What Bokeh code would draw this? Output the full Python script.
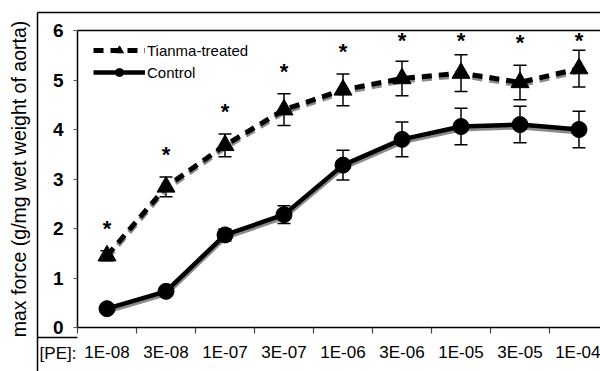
from bokeh.plotting import figure
from bokeh.models import (ColumnDataSource, Range1d, FixedTicker, Whisker, TeeHead,
                          Legend, LegendItem, LinearAxis)
from bokeh.embed import file_html
from bokeh.resources import INLINE
from bokeh.core.properties import value

concentrations = ["1E-08", "3E-08", "1E-07", "3E-07", "1E-06", "3E-06", "1E-05", "3E-05", "1E-04"]
tianma = [1.45, 2.84, 3.68, 4.40, 4.80, 5.03, 5.14, 4.95, 5.23]
tianma_err = [0.10, 0.20, 0.23, 0.32, 0.32, 0.35, 0.37, 0.35, 0.37]
control = [0.38, 0.73, 1.87, 2.28, 3.28, 3.80, 4.06, 4.10, 4.00]
control_err = [0.07, 0.08, 0.12, 0.18, 0.30, 0.35, 0.37, 0.37, 0.37]
y_ticks = [0, 1, 2, 3, 4, 5, 6]

FONT = "Liberation Sans"
W, H = 600, 371
x = list(range(1, len(concentrations) + 1))
star_y = [min(t + e + 0.45, 5.8) for t, e in zip(tianma, tianma_err)]

# pixel geometry of the plotting area inside the canvas
PX_X, PX_Y = 59.0, 49.5          # pixels per category / per unit
X0_PX, Y0_PX = 77.0, 327.0       # canvas position of (0.5, 0)
x_start = 0.5 - X0_PX / PX_X
x_end = x_start + W / PX_X
y_end = Y0_PX / PX_Y
y_start = y_end - H / PX_Y


def dx(px):
    return x_start + px / PX_X


def dy(py):
    return y_end - py / PX_Y


src = ColumnDataSource(dict(
    x=x, t=tianma, c=control,
    t_lo=[a - b for a, b in zip(tianma, tianma_err)],
    t_hi=[a + b for a, b in zip(tianma, tianma_err)],
    c_lo=[a - b for a, b in zip(control, control_err)],
    c_hi=[a + b for a, b in zip(control, control_err)],
    t_sh=[a - 0.05 for a in tianma], c_sh=[a - 0.05 for a in control],
    star=star_y, s=["*"] * len(x),
))

p = figure(width=W, height=H, output_backend="svg", toolbar_location=None,
           x_range=Range1d(x_start, x_end), y_range=Range1d(y_start, y_end),
           min_border=0, x_axis_location=None, y_axis_location=None)
p.outline_line_color = None
p.grid.visible = False
p.background_fill_color = "white"
p.border_fill_color = "white"

xa = LinearAxis(fixed_location=0, bounds=(0.5, x_end + 1))
xa.ticker = FixedTicker(ticks=x, minor_ticks=[i + 0.5 for i in range(0, len(x) + 1)])
xa.major_label_overrides = {i: lab for i, lab in zip(x, concentrations)}
xa.major_tick_in = 0
xa.major_tick_out = 0
xa.minor_tick_in = 0
xa.minor_tick_out = 6
xa.minor_tick_line_color = "#444444"
xa.minor_tick_line_width = 1.2
xa.axis_line_color = "black"
xa.axis_line_width = 1.5
xa.major_label_standoff = 9
xa.major_label_text_font = FONT
xa.major_label_text_font_size = "17px"
xa.major_label_text_color = "black"
p.add_layout(xa, "below")

ya = LinearAxis(fixed_location=0.5, bounds=(0, 6))
ya.ticker = FixedTicker(ticks=y_ticks)
ya.minor_tick_line_color = None
ya.major_tick_in = 0
ya.major_tick_out = 4
ya.major_tick_line_color = "#555555"
ya.axis_line_color = "black"
ya.axis_line_width = 1.5
ya.major_label_standoff = 10
ya.major_label_text_font = FONT
ya.major_label_text_font_size = "19px"
ya.major_label_text_font_style = "bold"
ya.major_label_text_color = "black"
ya.axis_label = "max force (g/mg wet weight of aorta)"
ya.axis_label_text_font = FONT
ya.axis_label_text_font_size = "19.5px"
ya.axis_label_text_font_style = "normal"
ya.axis_label_text_color = "black"
ya.axis_label_standoff = 20
p.add_layout(ya, "left")

# frame / table decoration lines
p.segment(x0=[0.5, dx(37), dx(37), dx(37)], y0=[6, dy(12), dy(12), dy(337)],
          x1=[x_end + 1, x_end + 1, dx(37), 0.5], y1=[6, dy(12), y_start - 1, dy(337)],
          line_color="black", line_width=1.5)
p.text(x=[dx(57.5)], y=[dy(353)], text=["[PE]:"], text_align="center", text_baseline="middle",
       text_font=value(FONT), text_font_size="17px", text_color="black")

# error bars
for lo, hi in (("t_lo", "t_hi"), ("c_lo", "c_hi")):
    w = Whisker(source=src, base="x", lower=lo, upper=hi, line_color="black", line_width=1.5,
                upper_head=TeeHead(size=13, line_color="black", line_width=1.5),
                lower_head=TeeHead(size=13, line_color="black", line_width=1.5))
    p.add_layout(w)

# shadows
p.line("x", "t_sh", source=src, line_color="#8a8a8a", line_width=5, line_dash="10 7")
p.line("x", "c_sh", source=src, line_color="#8a8a8a", line_width=5)

# series
lt = p.line("x", "t", source=src, line_color="black", line_width=5, line_dash="10 7")
mt = p.scatter("x", "t", source=src, marker="triangle", size=18, color="black")
lc = p.line("x", "c", source=src, line_color="black", line_width=4.5)
mc = p.scatter("x", "c", source=src, marker="circle", size=16, color="black")

p.text("x", "star", text="s", source=src, text_align="center", text_baseline="middle",
       text_font=value(FONT), text_font_size="22px", text_font_style="bold", text_color="black")

legend = Legend(items=[LegendItem(label="Tianma-treated", renderers=[lt, mt]),
                       LegendItem(label="Control", renderers=[lc, mc])],
                location=(93, 289), padding=0, spacing=2, glyph_width=52, glyph_height=20,
                label_height=20, label_standoff=2, border_line_color=None,
                background_fill_alpha=0, label_text_font=FONT, label_text_font_size="15px",
                label_text_color="black")
p.add_layout(legend)

open("out.html", "w").write(file_html(p, INLINE))
